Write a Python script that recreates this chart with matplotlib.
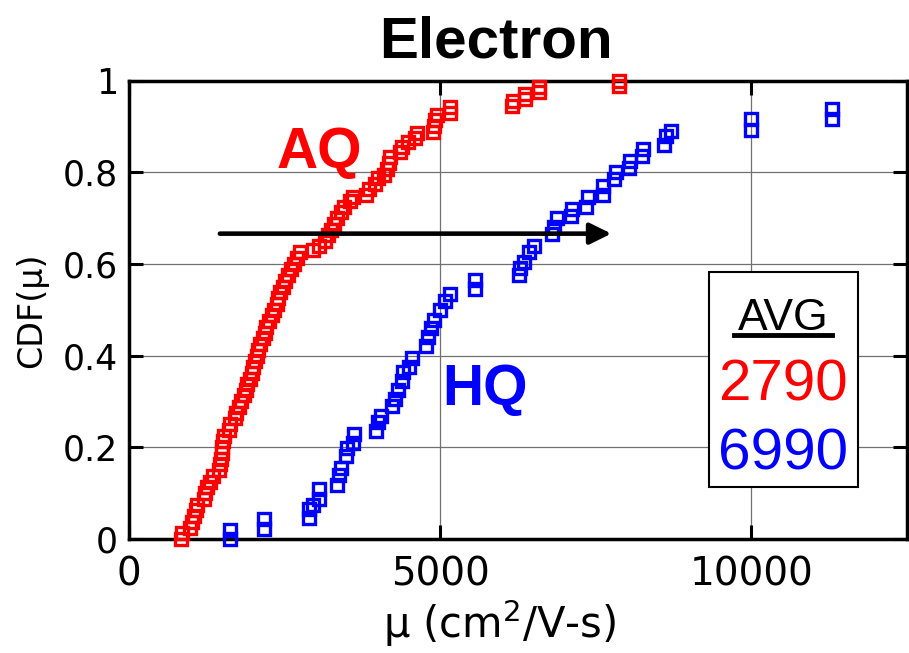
import matplotlib.pyplot as plt
from matplotlib.patches import Rectangle
from matplotlib.lines import Line2D

# 数据
aq_mu = [840, 850, 980, 1020, 1050, 1080, 1100,
         1200, 1220, 1250, 1300, 1350,
         1450, 1470, 1480, 1490, 1500, 1510, 1520,
         1600, 1620, 1700, 1720, 1760, 1800,
         1850, 1880, 1900, 1950,
         1980, 2000, 2020, 2050, 2080, 2100,
         2150, 2180, 2200, 2250, 2300, 2330,
         2380, 2400, 2430, 2480, 2500, 2550,
         2600, 2650, 2700, 2750,
         2950, 3050, 3150, 3200, 3250, 3300,
         3350, 3400, 3450, 3550, 3600, 3800,
         3850, 3950, 4000, 4100, 4150, 4180,
         4200, 4350, 4380, 4480, 4600, 4620,
         4880, 4900, 4920, 4950, 5150, 5150,
         6160, 6170, 6370, 6370, 6590, 6590, 7870, 7870]
aq_cdf = [0.000, 0.013, 0.025, 0.038, 0.050, 0.063, 0.075,
          0.088, 0.100, 0.113, 0.125, 0.138,
          0.150, 0.163, 0.175, 0.188, 0.200, 0.213, 0.225,
          0.238, 0.250, 0.263, 0.275, 0.288, 0.300,
          0.313, 0.325, 0.338, 0.350,
          0.363, 0.375, 0.388, 0.400, 0.413, 0.425,
          0.438, 0.450, 0.463, 0.475, 0.488, 0.500,
          0.513, 0.525, 0.538, 0.550, 0.563, 0.575,
          0.588, 0.600, 0.613, 0.625,
          0.630, 0.638, 0.650, 0.663, 0.675, 0.688,
          0.700, 0.713, 0.725, 0.738, 0.745, 0.750,
          0.763, 0.775, 0.788, 0.795, 0.808, 0.820,
          0.833, 0.845, 0.855, 0.865, 0.875, 0.885,
          0.888, 0.900, 0.913, 0.925, 0.930, 0.943,
          0.945, 0.955, 0.960, 0.970, 0.975, 0.985, 0.988, 1.000]

hq_mu = [1630, 1630, 2165, 2165,
         2890, 2890, 2950, 3060, 3060,
         3350, 3380, 3400, 3480, 3500, 3600, 3610,
         3970, 4000, 4050, 4230, 4270, 4330, 4380, 4400, 4500, 4550,
         4780, 4800, 4850, 4900, 5000, 5070, 5150, 5560, 5560,
         6270, 6290, 6350, 6420, 6500, 6800, 6830, 6870,
         7100, 7120, 7350, 7370, 7610, 7620, 7790, 7820,
         8030, 8050, 8250, 8260, 8600, 8620, 8710,
         10000, 10000, 11300, 11300]
hq_cdf = [0.000, 0.020, 0.022, 0.043,
          0.045, 0.065, 0.075, 0.088, 0.108,
          0.118, 0.140, 0.155, 0.180, 0.198, 0.210, 0.228,
          0.235, 0.255, 0.268, 0.290, 0.305, 0.325, 0.345, 0.365, 0.375, 0.395,
          0.420, 0.440, 0.460, 0.478, 0.500, 0.520, 0.535, 0.545, 0.565,
          0.575, 0.590, 0.605, 0.625, 0.640, 0.665, 0.680, 0.700,
          0.705, 0.720, 0.725, 0.745, 0.750, 0.770, 0.785, 0.800,
          0.810, 0.825, 0.835, 0.850, 0.860, 0.878, 0.890,
          0.893, 0.915, 0.915, 0.937]

x_ticks = [0, 5000, 10000]
y_ticks = [0, 0.2, 0.4, 0.6, 0.8, 1.0]
y_tick_labels = ['0', '0.2', '0.4', '0.6', '0.8', '1']
avg_aq = '2790'
avg_hq = '6990'

plt.rcParams['font.family'] = ['DejaVu Sans']

fig = plt.figure(figsize=(9.09, 6.53), dpi=100)
ax = fig.add_axes([0.1419, 0.1746, 0.8559, 0.7021])

# 散点
ax.plot(aq_mu, aq_cdf, 's', mfc='none', mec='#ff0000', ms=9, mew=2.4,
        clip_on=False, zorder=3)
ax.plot(hq_mu, hq_cdf, 's', mfc='none', mec='#0000ff', ms=9, mew=2.4,
        clip_on=False, zorder=3)

ax.set_xlim(0, 12500)
ax.set_ylim(0, 1)
ax.set_xticks(x_ticks)
ax.set_xticklabels([str(v) for v in x_ticks])
ax.set_yticks(y_ticks)
ax.set_yticklabels(y_tick_labels)
ax.tick_params(direction='in', length=10, width=2.2, top=True, right=True)
ax.tick_params(axis='x', labelsize=28, pad=12)
ax.tick_params(axis='y', labelsize=25, pad=8)
for s in ax.spines.values():
    s.set_linewidth(2.5)
ax.grid(True, color='#707070', lw=0.9)
ax.set_axisbelow(True)

# 箭头
ax.annotate('', xy=(7750, 0.666), xytext=(1460, 0.666),
            arrowprops=dict(arrowstyle='-|>,head_length=0.65,head_width=0.32',
                            lw=3.3, color='black', mutation_scale=20,
                            shrinkA=0, shrinkB=0), zorder=5)

# 标签
ax.text(2374, 0.81, 'AQ', color='#ff0000', fontsize=41, fontweight='bold',
        family='Liberation Sans', va='baseline', ha='left')
ax.text(5037, 0.293, 'HQ', color='#0000ff', fontsize=41, fontweight='bold',
        family='Liberation Sans', va='baseline', ha='left')

# AVG 框
ax.add_patch(Rectangle((0.7455, 0.1134), 0.1915, 0.4689, transform=ax.transAxes,
                       facecolor='white', edgecolor='black', lw=1.5, zorder=4))
ax.text(0.8406, 0.4558, 'AVG', transform=ax.transAxes, fontsize=32,
        family='Liberation Sans', ha='center', va='baseline', zorder=5)
ax.add_line(Line2D([0.7776, 0.9036], [0.446, 0.446], transform=ax.transAxes,
                   color='black', lw=3.5, zorder=5))
ax.text(0.8406, 0.303, avg_aq, transform=ax.transAxes, fontsize=42,
        color='#ff0000', family='Liberation Sans', ha='center', va='baseline', zorder=5)
ax.text(0.8406, 0.1505, avg_hq, transform=ax.transAxes, fontsize=42,
        color='#0000ff', family='Liberation Sans', ha='center', va='baseline', zorder=5)

fig.text(0.5457, 0.9127, 'Electron', fontsize=42, fontweight='bold',
         family='Liberation Sans', ha='center', va='baseline')
fig.text(0.55, 0.023, 'μ (cm$^2$/V-s)', fontsize=30, ha='center', va='baseline')
fig.text(0.035, 0.525, 'CDF(μ)', fontsize=24, rotation=90, ha='center', va='center')

fig.savefig('out.png', dpi=100)
